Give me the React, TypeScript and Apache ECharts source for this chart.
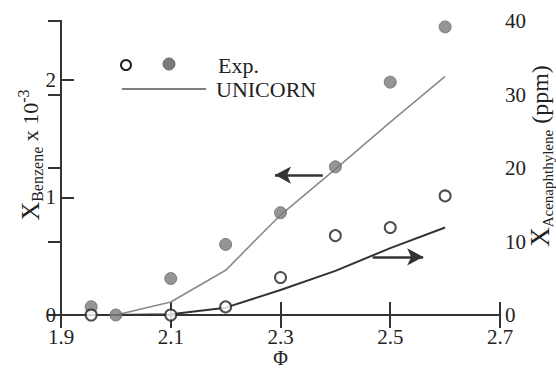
import React, { useEffect, useRef } from "react";
import * as echarts from "echarts";

// Equivalence ratio of the measured points
const expPhiBenzene = [1.955, 2.0, 2.1, 2.2, 2.3, 2.4, 2.5, 2.6];
const expBenzene = [0.07, 0.0, 0.31, 0.6, 0.87, 1.26, 1.98, 2.45]; // x 10^-3
const expPhiAcen = [1.955, 2.1, 2.2, 2.3, 2.4, 2.5, 2.6];
const expAcen = [0.0, 0.0, 1.1, 5.1, 10.8, 11.9, 16.2]; // ppm

// UNICORN model
const modelPhi = [2.0, 2.1, 2.2, 2.3, 2.4, 2.5, 2.6];
const modelBenzene = [0.0, 0.11, 0.38, 0.85, 1.24, 1.64, 2.03];
const modelAcen = [0.0, 0.1, 1.0, 3.4, 6.0, 9.1, 11.9];

const xTicks = ["1.9", "2.1", "2.3", "2.5", "2.7"];
const PHI0 = 1.9;

// arrow annotations [phiStart, phiEnd, y]
const leftArrow = [2.377, 2.29, 1.19];
const rightArrow = [2.468, 2.56, 7.9];

const FONT = "'Liberation Serif', 'Times New Roman', serif";

export default function App() {
  const ref = useRef<HTMLDivElement>(null);
  useEffect(() => {
    if (!ref.current) return;
    const chart = echarts.init(ref.current, null, { renderer: "svg" });
    const toX = (p: number) => +(p - PHI0).toFixed(4);
    const axisLine = { show: true, lineStyle: { color: "#333", width: 2 } };
    const tick = { inside: true, length: 13, lineStyle: { color: "#333", width: 2 } };
    const labelStyle = { color: "#222", fontFamily: FONT, fontSize: 21 };
    chart.setOption({
      animation: false,
      backgroundColor: "#fff",
      grid: {
        left: 61,
        right: 56,
        top: 21,
        bottom: 55,
        containLabel: false,
        outerBoundsMode: "none",
      },
      xAxis: [
        {
          type: "value",
          position: "bottom",
          min: 0,
          max: 0.8,
          interval: 0.2,
          axisLine,
          axisTick: tick,
          axisLabel: {
            ...labelStyle,
            margin: 11,
            formatter: (v: number) => xTicks[Math.round(v / 0.2)] ?? "",
          },
          splitLine: { show: false },
          name: "Φ",
          nameLocation: "middle",
          nameGap: 33,
          nameMoveOverlap: false,
          nameTextStyle: { fontFamily: FONT, fontSize: 20, color: "#222" },
        },
        {
          type: "value",
          position: "top",
          min: 0,
          max: 0.8,
          interval: 0.2,
          axisLine,
          axisTick: tick,
          axisLabel: { show: false },
          splitLine: { show: false },
        },
      ],
      yAxis: [
        {
          type: "value",
          position: "left",
          min: 0,
          max: 2.5,
          interval: 1,
          axisLine,
          axisTick: tick,
          axisLabel: { ...labelStyle, margin: 5, showMaxLabel: false },
          splitLine: { show: false },
        },
        {
          type: "value",
          position: "right",
          min: 0,
          max: 40,
          interval: 10,
          axisLine,
          axisTick: tick,
          axisLabel: { ...labelStyle, margin: 5 },
          splitLine: { show: false },
        },
      ],
      graphic: [
        {
          type: "text",
          x: 30,
          y: 155,
          rotation: Math.PI / 2,
          style: {
            text: "{x|X}{sub|Benzene}{n| x 10}{sup|-3}",
            align: "center",
            verticalAlign: "middle",
            fill: "#222",
            rich: {
              x: { fontFamily: FONT, fontSize: 26, lineHeight: 30, fill: "#222" },
              sub: { fontFamily: FONT, fontSize: 16, lineHeight: 15, verticalAlign: "bottom", fill: "#222" },
              n: { fontFamily: FONT, fontSize: 22, lineHeight: 26, fill: "#222" },
              sup: { fontFamily: FONT, fontSize: 16, lineHeight: 15, verticalAlign: "top", fill: "#222" },
            },
          },
        },
        {
          type: "text",
          x: 540,
          y: 156,
          rotation: Math.PI / 2,
          style: {
            text: "{x|X}{sub|Acenaphthylene}{n| (ppm)}",
            align: "center",
            verticalAlign: "middle",
            fill: "#222",
            rich: {
              x: { fontFamily: FONT, fontSize: 27, lineHeight: 30, fill: "#222" },
              sub: { fontFamily: FONT, fontSize: 15, lineHeight: 14, verticalAlign: "bottom", fill: "#222" },
              n: { fontFamily: FONT, fontSize: 24, lineHeight: 28, fill: "#222" },
            },
          },
        },
        // legend
        { type: "circle", shape: { cx: 126, cy: 65, r: 5 }, style: { fill: "#fff", stroke: "#222", lineWidth: 2 } },
        { type: "circle", shape: { cx: 169, cy: 64, r: 6 }, style: { fill: "#7a7a7a", stroke: "#6a6a6a", lineWidth: 1 } },
        {
          type: "text",
          x: 218,
          y: 65,
          style: { text: "Exp.", font: `22px ${FONT}`, fill: "#222", verticalAlign: "middle" },
        },
        { type: "line", shape: { x1: 122, y1: 89, x2: 206, y2: 89 }, style: { stroke: "#555", lineWidth: 1.5 } },
        {
          type: "text",
          x: 216,
          y: 89,
          style: { text: "UNICORN", font: `22px ${FONT}`, fill: "#222", verticalAlign: "middle" },
        },
      ],
      series: [
        {
          name: "UNICORN benzene",
          type: "line",
          xAxisIndex: 0,
          yAxisIndex: 0,
          data: modelPhi.map((p, i) => [toX(p), modelBenzene[i]]),
          showSymbol: false,
          lineStyle: { color: "#8a8a8a", width: 1.6 },
          markLine: {
            silent: true,
            symbol: ["none", "arrow"],
            symbolSize: [13, 16],
            label: { show: false },
            lineStyle: { color: "#333", width: 2.5, type: "solid" },
            data: [[{ coord: [toX(leftArrow[0]), leftArrow[2]] }, { coord: [toX(leftArrow[1]), leftArrow[2]] }]],
          },
          z: 2,
        },
        {
          name: "UNICORN acenaphthylene",
          type: "line",
          xAxisIndex: 0,
          yAxisIndex: 1,
          data: modelPhi.map((p, i) => [toX(p), modelAcen[i]]),
          showSymbol: false,
          lineStyle: { color: "#333", width: 2 },
          markLine: {
            silent: true,
            symbol: ["none", "arrow"],
            symbolSize: [13, 16],
            label: { show: false },
            lineStyle: { color: "#333", width: 2.5, type: "solid" },
            data: [[{ coord: [toX(rightArrow[0]), rightArrow[2]] }, { coord: [toX(rightArrow[1]), rightArrow[2]] }]],
          },
          z: 2,
        },
        {
          name: "Exp. benzene",
          type: "scatter",
          xAxisIndex: 0,
          yAxisIndex: 0,
          data: expPhiBenzene.map((p, i) => [toX(p), expBenzene[i]]),
          symbol: "circle",
          symbolSize: 12,
          itemStyle: { color: "#7a7a7a", borderColor: "#6a6a6a", borderWidth: 1 },
          z: 3,
        },
        {
          name: "Exp. acenaphthylene",
          type: "scatter",
          xAxisIndex: 0,
          yAxisIndex: 1,
          data: expPhiAcen.map((p, i) => [toX(p), expAcen[i]]),
          symbol: "circle",
          symbolSize: 11,
          itemStyle: { color: "#fff", borderColor: "#222", borderWidth: 2 },
          z: 4,
        },
      ],
    });
    return () => chart.dispose();
  }, []);
  return (
    <div
      ref={ref}
      style={{ position: "absolute", left: 0, top: 0, width: 556, height: 370, background: "#fff" }}
    />
  );
}
